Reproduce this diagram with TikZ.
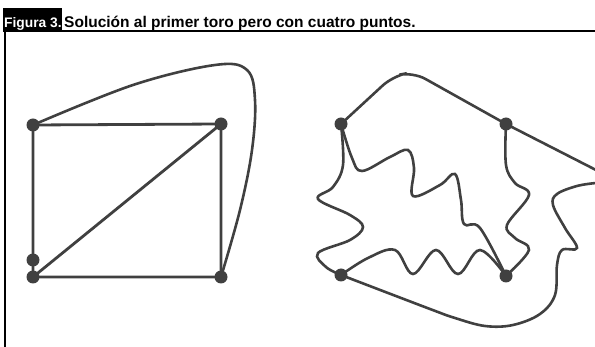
\documentclass[tikz,border=0pt]{standalone}
\usepackage{fontspec}
\setmainfont{Liberation Sans}
\begin{document}
\begin{tikzpicture}[x=1pt, y=-1pt,
    punto/.style = {shape=circle, fill=black!75, inner sep=0pt, minimum size=13pt},
    arista/.style = {draw=black!75, line width=2.8pt},
    curva/.style = {draw=black!75, line width=2.6pt, smooth, tension=0.6},
    titulo/.style = {anchor=base west, inner sep=0pt, font=\fontsize{15.5}{17}\selectfont\bfseries}]
    \useasboundingbox (0,0) rectangle (595,347);
    % encabezado
    \fill[black] (3,8) rectangle (62,31);
    \node[titulo, text=white, font=\fontsize{13.8}{16}\selectfont\bfseries] (fig) at (4,28) {Figura 3.};
    \node[titulo] (leyenda) at (64,28) {Solución al primer toro pero con cuatro puntos.};
    \draw[line width=1.8pt] (3,31) -- (595,31);
    \draw[line width=1.8pt] (5,31) -- (5,347);
    % primer toro
    \coordinate (p1) at (33,125);
    \coordinate (p2) at (221,124);
    \coordinate (p3) at (33,260);
    \coordinate (p4) at (33,277);
    \coordinate (p5) at (221,277);
    \draw[arista] (p1) -- (p2) -- (p5) -- (p4) -- (p1);
    \draw[arista] (p4) -- (p2);
    \draw[curva] plot coordinates {(p1) (133,85) (215,65) (247,70) (255,100) (252,150) (240,210) (p5)};
    \foreach \p in {p1,p2,p3,p4,p5} \node[punto] at (\p) {};
    % con cuatro puntos
    \coordinate (a) at (341,124);
    \coordinate (b) at (506,124);
    \coordinate (c) at (341,275);
    \coordinate (d) at (506,276);
    \coordinate (salida) at (596,170);
    \coordinate (entrada) at (596,183);
    \draw[arista, line width=2.6pt, rounded corners=14pt] (a) -- (393,76) -- (413,72) -- (b);
    \draw[arista, line width=2.6pt] (b) -- (salida);
    \draw[curva] plot coordinates {(a) (343,165) (333,187) (318,199) (350,215) (363,227) (350,240) (318,253) (326,267) (c)};
    \draw[curva] plot coordinates {(a) (352,158) (362,171) (390,157) (408,150) (414,168) (413,196) (440,185) (455,174) (461,200) (464,224) (480,228) (d)};
    \draw[curva] plot coordinates {(c) (368,258) (395,250) (413,274) (436,250) (458,274) (480,250) (d)};
    \draw[curva] plot coordinates {(b) (506,165) (515,183) (529,195) (507,225) (515,238) (529,250) (d)};
    \draw[curva] plot coordinates {(entrada) (577,186) (557,194) (553,205) (565,228) (577,248) (562,250) (557,265) (555,295) (540,314) (513,325) (485,326) (455,318) (430,309) (c)};
    \foreach \p in {a,b,c,d} \node[punto] at (\p) {};
\end{tikzpicture}
\end{document}
